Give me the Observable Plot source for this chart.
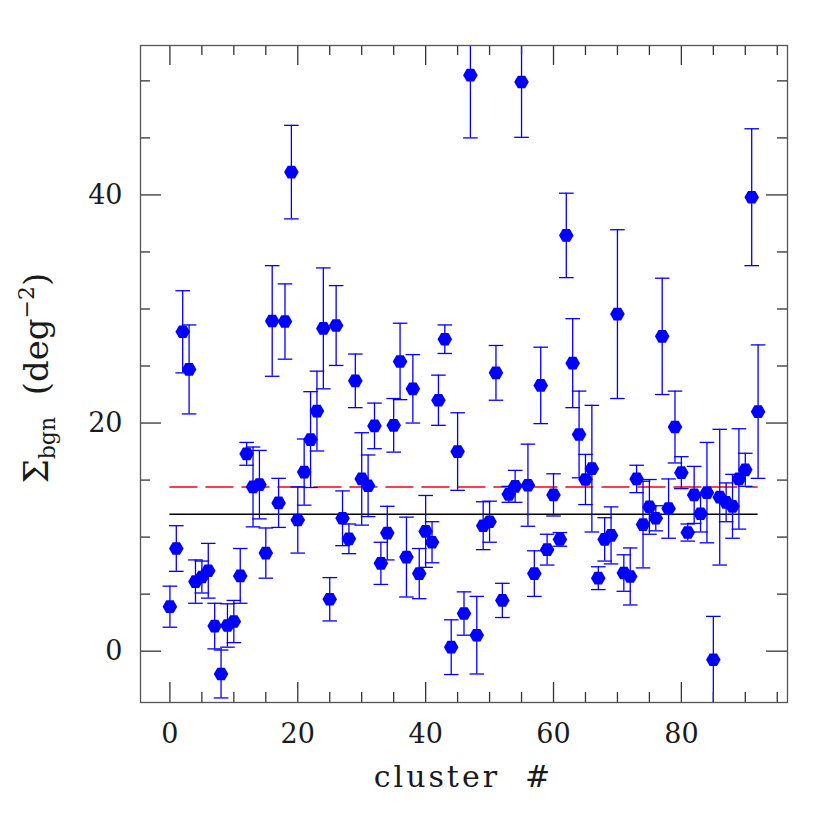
<!DOCTYPE html>
<html><head><meta charset="utf-8">
<script src="https://cdn.jsdelivr.net/npm/d3@7"></script>
<script src="https://cdn.jsdelivr.net/npm/@observablehq/plot@0.6"></script>
<style>
body{margin:0;background:#fff;}
#chart svg{background:#fff;}
#chart svg text{font-family:"DejaVu Serif",serif;fill:#1a1a1a;}
</style></head><body><div id="chart"></div>
<script>
// Background surface density per cluster (index = cluster #)
const sigma = [3.9, 9.0, 28.0, 24.7, 6.1, 6.5, 7.05, 2.2, -2.0, 2.25,
  2.6, 6.6, 17.3, 14.4, 14.6, 8.6, 28.95, 13.0, 28.9, 42.0,
  11.5, 15.7, 18.55, 21.05, 28.3, 4.55, 28.55, 11.65, 9.85, 23.7,
  15.1, 14.5, 19.75, 7.7, 10.35, 19.8, 25.4, 8.25, 23.0, 6.8,
  10.5, 9.55, 22.0, 27.35, 0.35, 17.5, 3.3, 50.5, 1.4, 11.0,
  11.35, 24.4, 4.45, 13.75, 14.45, 49.9, 14.55, 6.8, 23.3, 8.9,
  13.7, 9.8, 36.45, 25.25, 19.0, 15.05, 16.0, 6.4, 9.8, 10.15,
  29.55, 6.85, 6.55, 15.1, 11.1, 12.65, 11.65, 27.6, 12.5, 19.65,
  15.65, 10.4, 13.7, 12.05, 13.9, -0.75, 13.5, 13.05, 12.7, 15.1,
  15.9, 39.8, 21.0];
const sigmaErr = [1.8, 2.0, 3.6, 3.9, 1.9, 1.4, 2.4, 2.0, 2.1, 1.9,
  1.85, 2.4, 1.0, 3.5, 3.0, 2.2, 4.85, 2.15, 3.3, 4.1,
  2.9, 2.9, 4.2, 3.5, 5.3, 1.9, 3.5, 2.4, 1.3, 2.35,
  4.05, 2.7, 2.0, 1.85, 2.35, 2.35, 3.35, 3.5, 3.0, 2.2,
  3.15, 1.8, 2.2, 1.25, 2.4, 3.4, 1.9, 5.5, 3.4, 2.1,
  1.8, 2.4, 1.5, 0.7, 1.4, 4.85, 3.6, 2.0, 3.35, 1.35,
  1.85, 0.6, 3.7, 3.9, 3.8, 2.2, 5.55, 1.0, 1.9, 2.5,
  7.4, 1.6, 2.5, 1.2, 3.8, 2.4, 1.1, 5.1, 2.6, 3.15,
  1.4, 0.75, 2.5, 1.6, 4.4, 3.8, 5.95, 1.7, 2.8, 4.4,
  1.45, 6.0, 5.85];
const meanLevel = 14.4;    // red dashed
const medianLevel = 12.0;  // black solid
const xMajor = [0, 20, 40, 60, 80];
const xMinor = [5, 10, 15, 25, 30, 35, 45, 50, 55, 65, 70, 75, 85, 90, 95];
const yMajor = [0, 20, 40];
const yMinor = [5, 10, 15, 25, 30, 35, 45, 50];

const data = sigma.map((v, i) => ({cluster: i, v, e: sigmaErr[i]}));
const firstCluster = 0, lastCluster = sigma.length - 1;

const W = 830, H = 830;
const mL = 140, mR = 43, mT = 45, mB = 128;
const plotW = W - mL - mR, plotH = H - mT - mB;

const hexFlat = {
  draw(ctx, size) {
    const R = Math.sqrt(size / Math.PI), h = R * Math.sqrt(3) / 2;
    ctx.moveTo(R, 0); ctx.lineTo(R / 2, h); ctx.lineTo(-R / 2, h);
    ctx.lineTo(-R, 0); ctx.lineTo(-R / 2, -h); ctx.lineTo(R / 2, -h);
    ctx.closePath();
  }
};
const capSym = {
  draw(ctx, size) {
    const R = Math.sqrt(size / Math.PI);
    ctx.moveTo(-R, 0); ctx.lineTo(R, 0);
  }
};

const tickCol = "#333";
const chart = Plot.plot({
  width: W, height: H,
  marginLeft: mL, marginRight: mR, marginTop: mT, marginBottom: mB,
  x: {domain: [-4.6, 96.6], label: null},
  y: {domain: [-4.5, 53.1], label: null},
  marks: [
    Plot.ruleY([medianLevel], {x1: firstCluster, x2: lastCluster, stroke: "black", strokeWidth: 1.5}),
    Plot.ruleY([meanLevel], {x1: firstCluster, x2: lastCluster, stroke: "red", strokeWidth: 1.5, strokeDasharray: "28,8"}),
    Plot.ruleX(data, {x: "cluster", y1: d => d.v - d.e, y2: d => d.v + d.e, stroke: "blue", strokeWidth: 1.3, clip: true}),
    Plot.dot(data, {x: "cluster", y: d => d.v - d.e, symbol: capSym, r: 7.3, stroke: "blue", strokeWidth: 1.3, clip: true}),
    Plot.dot(data, {x: "cluster", y: d => d.v + d.e, symbol: capSym, r: 7.3, stroke: "blue", strokeWidth: 1.3, clip: true}),
    Plot.dot(data, {x: "cluster", y: "v", symbol: hexFlat, r: 7.3, fill: "blue", stroke: "none", clip: true}),
    // inward ticks on all four sides
    Plot.ruleX(xMajor, {x: d => d, insetTop: plotH - 20, stroke: tickCol, strokeWidth: 1.3}),
    Plot.ruleX(xMajor, {x: d => d, insetBottom: plotH - 20, stroke: tickCol, strokeWidth: 1.3}),
    Plot.ruleX(xMinor, {x: d => d, insetTop: plotH - 10, stroke: tickCol, strokeWidth: 1.3}),
    Plot.ruleX(xMinor, {x: d => d, insetBottom: plotH - 10, stroke: tickCol, strokeWidth: 1.3}),
    Plot.ruleY(yMajor, {y: d => d, insetRight: plotW - 21, stroke: tickCol, strokeWidth: 1.3}),
    Plot.ruleY(yMajor, {y: d => d, insetLeft: plotW - 21, stroke: tickCol, strokeWidth: 1.3}),
    Plot.ruleY(yMinor, {y: d => d, insetRight: plotW - 10, stroke: tickCol, strokeWidth: 1.3}),
    Plot.ruleY(yMinor, {y: d => d, insetLeft: plotW - 10, stroke: tickCol, strokeWidth: 1.3}),
    Plot.frame({stroke: "#555", strokeWidth: 1.3}),
    Plot.axisX(xMajor, {anchor: "bottom", tickSize: 0, tickPadding: 21, fontSize: 27, label: null}),
    Plot.axisY(yMajor, {anchor: "left", tickSize: 0, tickPadding: 18, fontSize: 27, label: null})
  ]
});
document.getElementById("chart").appendChild(chart);

const svg = d3.select(chart);
svg.append("text")
  .attr("x", mL + plotW / 2).attr("y", 787)
  .attr("text-anchor", "middle").attr("font-size", 30)
  .attr("letter-spacing", "3px")
  .text("cluster\u00a0\u00a0#");

const yl = svg.append("text")
  .attr("transform", "translate(48,378) rotate(-90)")
  .attr("text-anchor", "middle").attr("font-size", 34);
yl.append("tspan").text("Σ");
yl.append("tspan").attr("font-size", 22).attr("dy", 7).text("bgn");
yl.append("tspan").attr("dy", -7).text("\u00a0\u00a0(deg");
yl.append("tspan").attr("font-size", 22).attr("dy", -14).text("−2");
yl.append("tspan").attr("dy", 14).text(")");
</script></body></html>
